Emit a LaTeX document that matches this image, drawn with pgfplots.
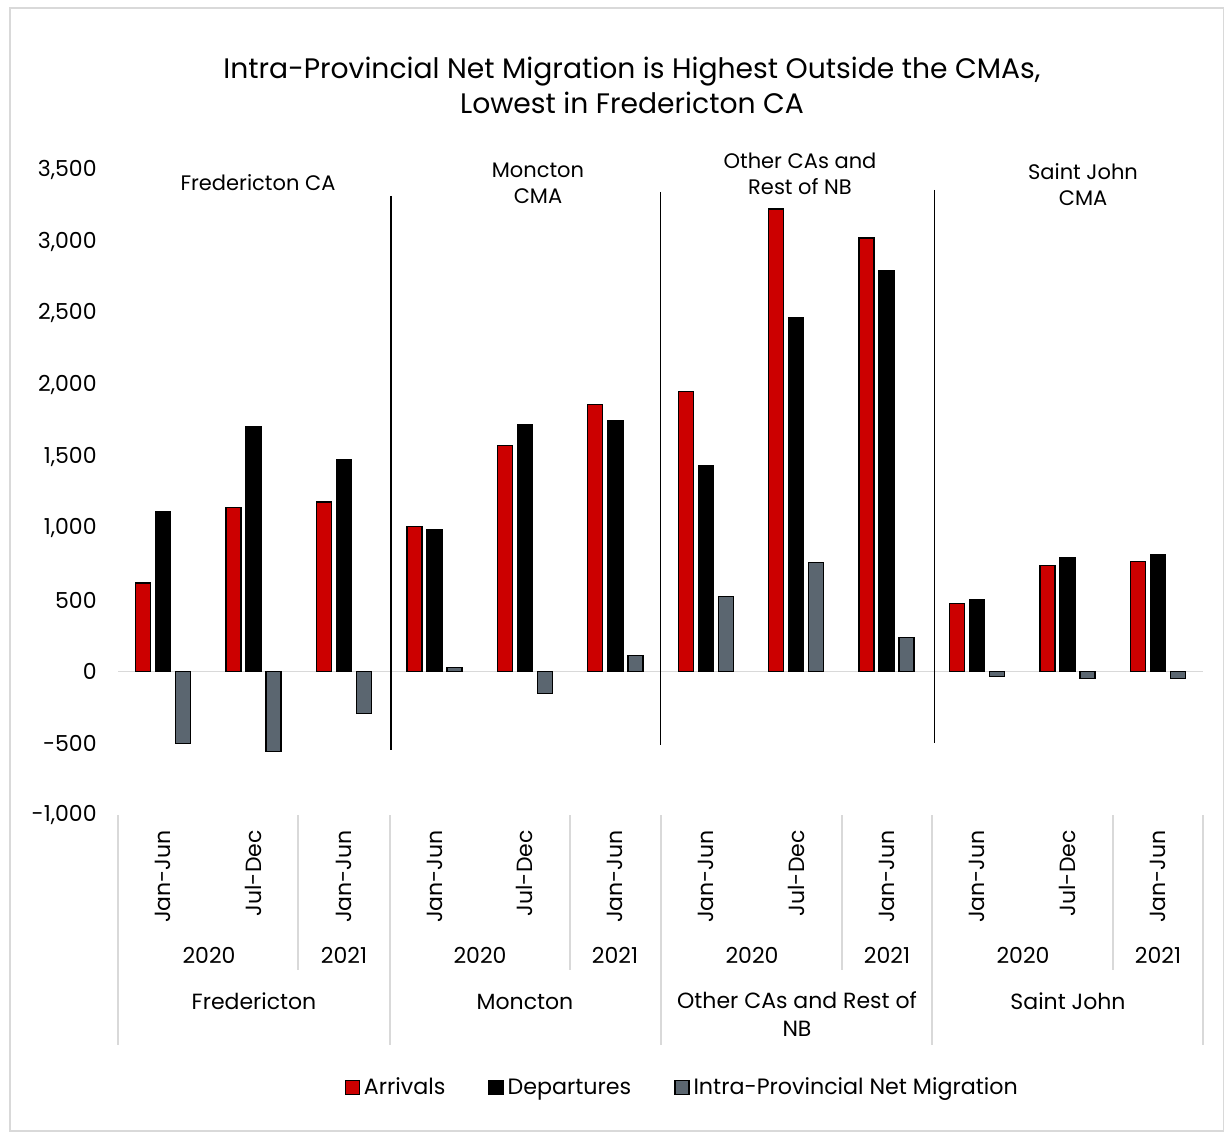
\documentclass[border=0pt]{standalone}
\usepackage{pgfplots}
\pgfplotsset{compat=1.18}
\usepackage{fontspec}
\setmainfont{Poppins}
\definecolor{arr}{HTML}{CC0000}
\definecolor{net}{HTML}{5B6670}
\definecolor{sep}{HTML}{D9D9D9}
\begin{document}
\begin{tikzpicture}
\useasboundingbox (0,0) rectangle (612.5pt,566pt);
\fill[white] (0,0) rectangle (612.5pt,566pt);
\draw[sep, line width=0.7pt] (5pt,0.6pt) rectangle (611.8pt,562pt);
\begin{axis}[
 at={(59pt,158.5pt)}, anchor=south west,
 scale only axis, width=542.5pt, height=322.5pt,
 xmin=-0.5, xmax=11.5, ymin=-1000, ymax=3500,
 ytick={-1000,-500,...,3500},
 xtick={0,...,11},
 xticklabels={Jan-Jun,Jul-Dec,Jan-Jun,Jan-Jun,Jul-Dec,Jan-Jun,Jan-Jun,Jul-Dec,Jan-Jun,Jan-Jun,Jul-Dec,Jan-Jun},
 x tick label style={rotate=90, anchor=east, inner sep=0pt, font=\fontsize{11}{13}\selectfont},
 xticklabel shift=7.5pt,
 y tick label style={anchor=east, inner sep=0pt, font=\fontsize{11}{13}\selectfont},
 yticklabel shift=10.5pt,
 /pgf/number format/assume math mode=true,
 /pgf/number format/1000 sep={,},
 scaled y ticks=false,
 axis line style={draw=none}, major tick length=0pt,
 ybar=2.5pt, bar width=7.5pt,
 clip=false,
 legend columns=3,
 legend style={at={(0.521,-0.423)}, anchor=center, draw=none, fill=none,
   font=\fontsize{11.1}{13}\selectfont,
   /tikz/every even column/.append style={column sep=19.5pt}},
 legend image code/.code={\draw[#1, line width=0.6pt] (0pt,-3.5pt) rectangle (7pt,3.5pt);},
]
\draw[sep, line width=0.8pt] (axis cs:-0.5,0) -- (axis cs:11.5,0);
\addplot[fill=arr, draw=black, line width=0.7pt] coordinates {
 (0,620) (1,1144) (2,1185) (3,1011) (4,1576) (5,1862) (6,1953) (7,3229) (8,3027) (9,474) (10,739) (11,767)};
\addplot[fill=black, draw=black, line width=0.7pt] coordinates {
 (0,1116) (1,1708) (2,1478) (3,990) (4,1722) (5,1750) (6,1437) (7,2469) (8,2796) (9,502) (10,795) (11,816)};
\addplot[fill=net, draw=black, line width=0.7pt] coordinates {
 (0,-502) (1,-558) (2,-293) (3,28) (4,-153) (5,112) (6,523) (7,760) (8,237) (9,-35) (10,-49) (11,-49)};
\legend{Arrivals, Departures, Intra-Provincial Net Migration}
\draw[black, line width=0.6pt] (axis cs:2.52,3319) -- (axis cs:2.52,-544);
\draw[black, line width=0.6pt] (axis cs:5.5,3347) -- (axis cs:5.5,-509);
\draw[black, line width=0.6pt] (axis cs:8.53,3361) -- (axis cs:8.53,-495);
\end{axis}
\begin{scope}[x=0.5pt, y=-0.5pt, yshift=566pt]
 % title
 \node[font=\fontsize{14.1}{17.5}\selectfont, align=center] at (632,85) {Intra-Provincial Net Migration is Highest Outside the CMAs,\\Lowest in Fredericton CA};
 % group notes in plot
 \begin{scope}[every node/.style={font=\fontsize{10.5}{13}\selectfont, align=center}]
 \node at (258,183) {Fredericton CA};
 \node at (538,183) {Moncton\\CMA};
 \node at (800,174) {Other CAs and\\Rest of NB};
 \node at (1083,185) {Saint John\\CMA};
 \end{scope}
 % separators below axis
 \foreach \xx in {118,390,661,932,1203} \draw[sep, line width=0.8pt] (\xx,815) -- (\xx,1045);
 \foreach \xx in {298,570,842,1113} \draw[sep, line width=0.8pt] (\xx,815) -- (\xx,970);
 \begin{scope}[every node/.style={font=\fontsize{11}{14}\selectfont, align=center}]
 \foreach \xx in {209,480,752,1023} \node at (\xx,955) {2020};
 \foreach \xx in {344,615,887,1158} \node at (\xx,955) {2021};
 \node at (254,1001) {Fredericton};
 \node at (525,1002) {Moncton};
 \node[anchor=north] at (797,985) {Other CAs and Rest of\\NB};
 \node at (1068,1001) {Saint John};
 \end{scope}
\end{scope}
\end{tikzpicture}
\end{document}
